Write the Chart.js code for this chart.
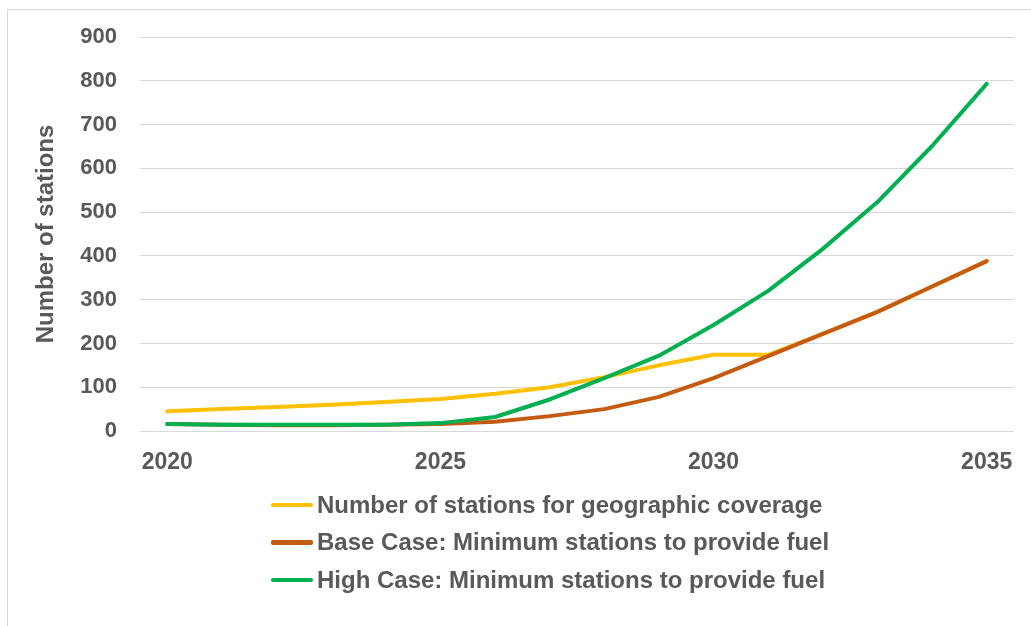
<!DOCTYPE html>
<html>
<head>
<meta charset="utf-8">
<script src="https://cdn.jsdelivr.net/npm/chart.js@4/dist/chart.umd.min.js"></script>
<style>
  html, body { margin: 0; padding: 0; background: #fff; overflow: hidden; }
  #wrap { position: relative; width: 1031px; height: 626px; }
  #frame { position: absolute; left: 7px; top: 9px; width: 1100px; height: 700px; border: 1px solid #d9d9d9; box-sizing: border-box; }
  #chart { position: absolute; left: 0; top: 0; }
  #legend { position: absolute; left: 271px; top: 486px; font-family: "Liberation Sans", Arial, sans-serif; font-weight: bold; font-size: 24px; color: #595959; }
  #legend .row { display: flex; align-items: center; height: 37.5px; }
  #legend .swatch { width: 42px; height: 4.5px; border-radius: 2px; margin-right: 4px; }
</style>
</head>
<body>
<div id="wrap">
  <div id="frame"></div>
  <canvas id="chart" width="1031" height="626"></canvas>
  <div id="legend"></div>
</div>
<script>
const years = ['2020','2021','2022','2023','2024','2025','2026','2027','2028','2029','2030','2031','2032','2033','2034','2035'];
const coverage = [45, 50, 55, 60, 66, 73, 85, 100, 123, 150, 174, 174, 222, 272, 330, 388];
const baseCase = [16, 14, 13, 13, 14, 16, 21, 34, 50, 78, 121, 171, 222, 272, 330, 388];
const highCase = [16, 14, 14, 14, 14, 18, 32, 72, 121, 172, 242, 320, 416, 523, 651, 793];
const yTicks = [0, 100, 200, 300, 400, 500, 600, 700, 800, 900];

const names = [
  'Number of stations for geographic coverage',
  'Base Case: Minimum stations to provide fuel',
  'High Case: Minimum stations to provide fuel'
];
const colors = ['#FFC000', '#C55A11', '#00B050'];
const series = [coverage, baseCase, highCase];
const family = '"Liberation Sans", Arial, sans-serif';
const grey = '#595959';

const chart = new Chart(document.getElementById('chart'), {
  type: 'line',
  data: {
    labels: years,
    datasets: series.map((d, i) => ({
      label: names[i],
      data: d,
      borderColor: colors[i],
      backgroundColor: colors[i],
      borderWidth: 4,
      pointRadius: 0,
      tension: 0,
      borderCapStyle: 'round',
      borderJoinStyle: 'round',
      order: 2 - i   // green on top, yellow underneath
    }))
  },
  options: {
    responsive: false,
    animation: false,
    layout: { padding: { left: 0, right: 17, top: 37, bottom: 145 } },
    plugins: { legend: { display: false }, tooltip: { enabled: false } },
    scales: {
      x: {
        offset: true,
        grid: { display: false, drawTicks: false },
        border: { display: false },
        ticks: {
          autoSkip: false, maxRotation: 0, padding: 18, color: grey,
          font: { family, weight: 'bold', size: 23 },
          callback: (v, i) => (i % 5 === 0 ? years[i] : '')
        },
        afterFit: (s) => { s.height = 50; }
      },
      y: {
        min: 0, max: 900,
        afterBuildTicks: (s) => { s.ticks = yTicks.map(v => ({ value: v })); },
        grid: { color: '#d9d9d9', lineWidth: 1, drawTicks: false },
        border: { display: false },
        ticks: { padding: 23, color: grey, font: { family, weight: 'bold', size: 22 } },
        title: {
          display: true, text: 'Number of stations', color: grey,
          font: { family, weight: 'bold', size: 24 },
          padding: { top: 32, bottom: 0 }
        },
        afterFit: (s) => { s.width = 140; }
      }
    }
  }
});

const legend = document.getElementById('legend');
names.forEach((n, i) => {
  const row = document.createElement('div');
  row.className = 'row';
  row.innerHTML = `<span class="swatch" style="background:${colors[i]}"></span><span>${n}</span>`;
  legend.appendChild(row);
});
</script>
</body>
</html>
